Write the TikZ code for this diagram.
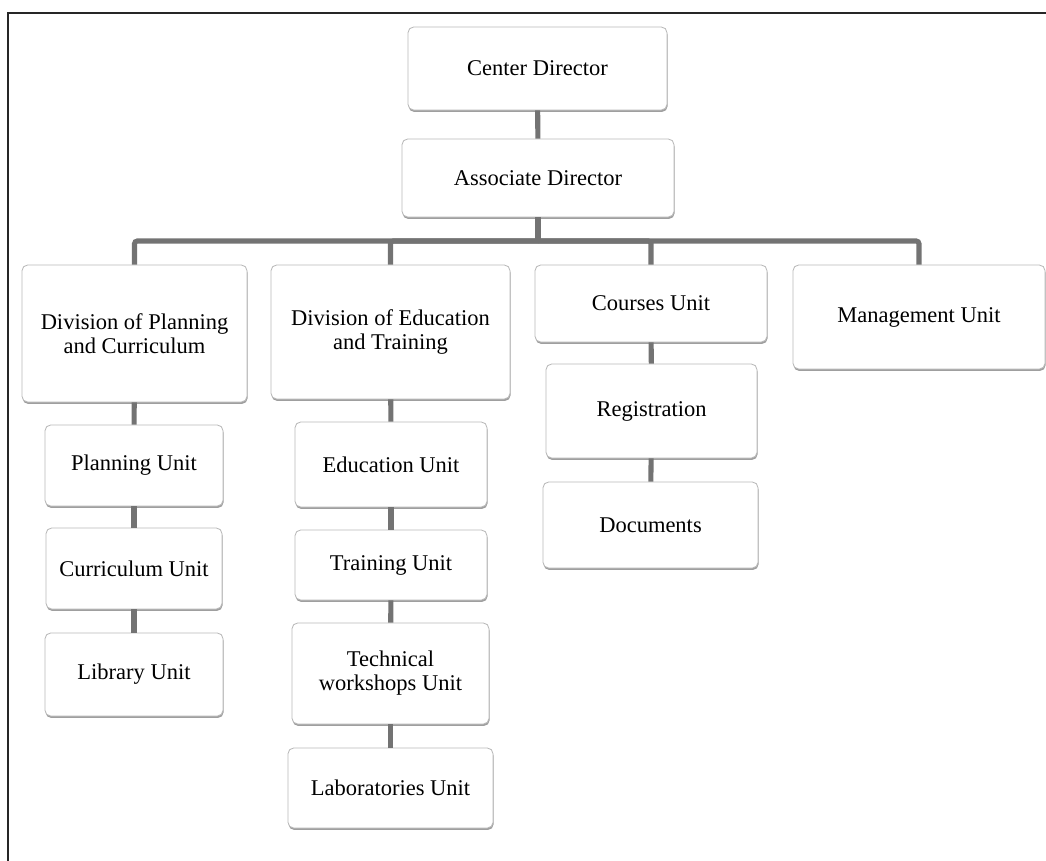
\documentclass[tikz,border=0pt]{standalone}
\usepackage{fontspec}
\setmainfont{Liberation Serif}
\usetikzlibrary{shadows}

\begin{document}
\begin{tikzpicture}[x=0.025cm, y=-0.025cm,
        wh/.style 2 args={minimum width=#1*0.025cm, minimum height=#2*0.025cm}]
        \useasboundingbox (0,0) rectangle (1046,861);
        \draw [line width=1.5pt, black!85] (1046,13) -| (8,861);

        \begin{scope}[every node/.style={draw=gray!55, line width=0.6pt, fill=white,
                rounded corners=4pt, align=center, inner sep=2pt,
                font=\fontsize{16}{17}\selectfont,
                drop shadow={shadow xshift=0.4pt, shadow yshift=-1.4pt, fill=gray!75, opacity=1}}]
            \node[wh={259}{83}] (cdir) at (537.5,68.5) {Center Director};
            \node[wh={272}{78}] (adir) at (538,178) {Associate Director};

            \node[wh={225}{137}] (dplan) at (134.5,333.5) {Division of Planning\\and Curriculum};
            \node[wh={239}{134}] (dedu) at (390.5,332) {Division of Education\\and Training};
            \node[wh={232}{77}] (courses) at (651,303.5) {Courses Unit};
            \node[wh={252}{104}] (mgmt) at (919,317) {Management Unit};

            \node[wh={178}{81}] (planu) at (134,465.5) {Planning Unit};
            \node[wh={176}{81}] (curru) at (134,568.5) {Curriculum Unit};
            \node[wh={178}{83}] (libu) at (134,674.5) {Library Unit};

            \node[wh={192}{85}] (eduu) at (391,464.5) {Education Unit};
            \node[wh={192}{70}] (trainu) at (391,565) {Training Unit};
            \node[wh={197}{101}] (techu) at (390.5,673.5) {Technical\\workshops Unit};
            \node[wh={205}{80}] (labu) at (390.5,788) {Laboratories Unit};

            \node[wh={211}{94}] (reg) at (651.5,411) {Registration};
            \node[wh={215}{86}] (docs) at (650.5,525) {Documents};
        \end{scope}

        \coordinate (bus) at (538,241);

        \begin{scope}[line width=3.6pt, black!55]
            \draw (cdir) -- (adir);
            \draw (adir) -- (bus);
            \draw [rounded corners=2pt] (bus) -| (dplan.north);
            \draw [rounded corners=2pt] (bus) -| (dedu.north);
            \draw [rounded corners=2pt] (bus) -| (courses.north);
            \draw [rounded corners=2pt] (bus) -| (mgmt.north);

            \draw (dplan) -- (planu);
            \draw (planu) -- (curru);
            \draw (curru) -- (libu);

            \draw (dedu) -- (eduu);
            \draw (eduu) -- (trainu);
            \draw (trainu) -- (techu);
            \draw (techu) -- (labu);

            \draw (courses) -- (reg);
            \draw (reg) -- (docs);
        \end{scope}
    \end{tikzpicture}
\end{document}
